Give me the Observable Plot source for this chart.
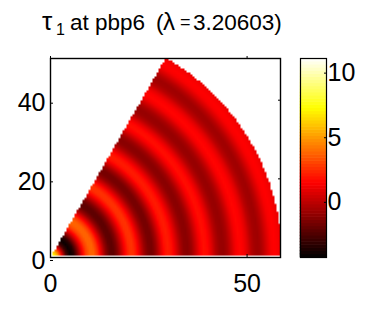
<!DOCTYPE html>
<html><head><meta charset="utf-8">
<script src="https://cdn.jsdelivr.net/npm/d3@7"></script>
<script src="https://cdn.jsdelivr.net/npm/@observablehq/plot@0.6"></script>
<style>
html,body{margin:0;padding:0;background:#fff}
#wrap{position:relative;width:381px;height:309px;overflow:hidden;font-family:"Liberation Sans",sans-serif}
#wrap svg{position:absolute;left:0;top:0;background:transparent}
#title{position:absolute;left:0;top:0;font-size:22.5px;line-height:30px;white-space:nowrap;color:#000}
#title span{position:absolute;top:8px}
</style></head><body>
<div id="wrap"><div id="title"><span style="left:42px;font-size:26px;top:6px">τ</span><span style="left:56px;font-size:16px;top:15px">1</span><span style="left:70px">at pbp6</span><span style="left:156px">(</span><span style="left:163px;font-size:24px;top:7px">λ</span><span style="left:180px;font-size:18px;top:7px">=</span><span style="left:193px">3.20603)</span></div></div>
<script>
const radii = [0,1,2,3,4,5,6,7,8,9,10,11,12,13,14,15,16,17,18,19,20,21,22,23,24,25,26,27,28,29,30,31,32,33,34,35,36,37,38,39,40,41,42,43,44,45,46,47,48,49,50,51,52,53,54,55,56,57,58,58.5];
const tau = [7.8,7,4.5,0.5,-3,-4.3,-3.6,-1.5,0.8,2.6,3.5,3.5,2.4,0.6,-1.2,-2.3,-2.4,-1.6,-0.2,1.3,2.3,2.4,1.6,0.2,-1.1,-1.8,-1.8,-0.9,0.4,1.6,1.9,1.5,0.5,-0.6,-1.3,-1.4,-0.9,0.1,1.1,1.6,1.4,0.6,-0.4,-1,-1.1,-0.7,0.1,1,1.4,1.2,0.6,-0.3,-0.8,-0.9,-0.4,0.4,1.1,1.3,1.1,0.9];
const anglesDeg = d3.range(0, 60.01, 1.5);
const xTicks = [0,50], yTicks = [0,20,40], barTicks = [0,5,10];
const hotStops = [-4.5,1.275,7.05,10.9], hotColors = ["#000000","#ff0000","#ffff00","#ffffff"];
const color = {type:"linear", domain:hotStops, range:hotColors, clamp:true};

const mesh = radii.flatMap((r,i) => (r===0?[0]:anglesDeg).map(a => ({
  x:r*Math.cos(a*Math.PI/180), y:r*Math.sin(a*Math.PI/180), v:tau[i]})));

// Barycentric shading, blanked outside the sector that the mesh covers.
const bary = Plot.interpolatorBarycentric();
const shade = (index,w,h,X,Y,V) => {
  const out = bary(index,w,h,X,Y,V);
  const ox=X[index[0]], oy=Y[index[0]];
  const rmax = Math.max(...Array.from(index,i=>Math.hypot(X[i]-ox,Y[i]-oy)));
  const amax = Math.max(...Array.from(index,i=>Math.atan2(oy-Y[i],X[i]-ox)));
  for (let j=0;j<h;j++) for (let i=0;i<w;i++){
    const dx=i+.5-ox, dy=oy-(j+.5);
    if (Math.hypot(dx,dy)>rmax+.3 || Math.atan2(dy,dx)>amax || dy<1) out[j*w+i]=NaN;
  }
  return out;
};

const common = {style:{fontFamily:"Liberation Sans, sans-serif",background:"transparent",overflow:"visible"}};
const main = Plot.plot({...common, width:381, height:309,
  marginLeft:50, marginRight:101, marginTop:58, marginBottom:52,
  x:{domain:[0,58.5]}, y:{domain:[0,50.6]}, color,
  marks:[
    Plot.raster(mesh,{x:"x",y:"y",fill:"v",interpolate:shade,pixelSize:2}),
    Plot.frame({stroke:"#000",strokeWidth:1.4}),
    Plot.axisX({ticks:xTicks,tickFormat:d=>d,tickSize:-3,tickPadding:20,fontSize:25,label:null}),
    Plot.axisY({ticks:yTicks,tickFormat:d=>d,tickSize:-3,tickPadding:8,fontSize:25,dy:3,label:null}),
    Plot.axisX({anchor:"top",ticks:xTicks,tickFormat:()=>"",tickSize:3,label:null}),
    Plot.axisY({anchor:"right",ticks:yTicks,tickFormat:()=>"",tickSize:-3,label:null}),
  ]});
const levels = d3.range(64);
const lo=-4.5, hi=10.9, step=(hi-lo)/64;
const bar = Plot.plot({...common, width:381, height:309,
  marginLeft:300, marginRight:55, marginTop:58, marginBottom:52,
  x:{domain:[0,1],axis:null}, y:{domain:[lo,hi]}, color,
  marks:[
    Plot.rect(levels,{x1:()=>0,x2:()=>1,y1:i=>lo+i*step,y2:i=>lo+(i+1)*step,fill:i=>lo+(i+.5)*step,inset:-0.3}),
    Plot.frame({stroke:"#000",strokeWidth:1.2}),
    Plot.axisY({anchor:"right",ticks:barTicks,tickFormat:d=>d,tickSize:-3,tickPadding:4,fontSize:25,dy:3,label:null}),
  ]});
const w=document.getElementById("wrap"); w.append(main); w.append(bar);
</script></body></html>
